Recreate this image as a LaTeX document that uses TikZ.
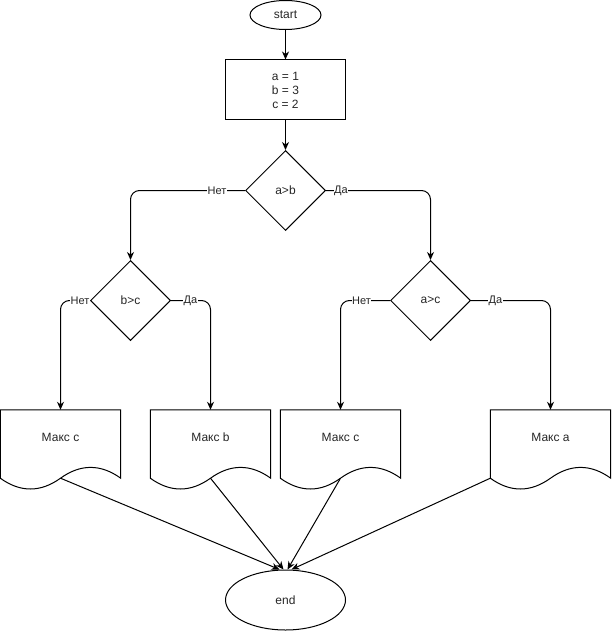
\documentclass[tikz,border=0pt]{standalone}
\usepackage{fontspec}
\setmainfont{Liberation Sans}
\usetikzlibrary{arrows.meta,shapes.geometric}
\tikzset{
  x=1pt, y=-1pt,
  every node/.style={font=\fontsize{12}{14}\selectfont, inner sep=0pt, text=black!85},
  box/.style={draw, line width=1pt, rectangle, minimum width=120pt, minimum height=60pt, align=center},
  oval/.style={draw, line width=1pt, ellipse},
  decision/.style={draw, line width=1pt, diamond, minimum width=80pt, minimum height=80pt, aspect=1},
  docnode/.style={minimum width=120pt, minimum height=68pt},
  docline/.style={draw, line width=1pt},
  flow/.style={line width=1pt, -{Stealth[length=8pt,width=7pt,inset=2.5pt]}},
  branch/.style={flow, rounded corners=9pt},
  lbl/.style={font=\fontsize{11}{13}\selectfont, fill=white, inner xsep=0.5pt, inner ysep=1pt}
}
\newcommand\docoutline[1]{%
  \draw[docline] (#1.south west) .. controls +(20,14.4) and +(-20,14.4) .. (#1.south)
    .. controls +(20,-14.4) and +(-20,-14.4) .. (#1.south east)
    -- (#1.north east) -- (#1.north west) -- cycle;}
\begin{document}
\begin{tikzpicture}
\useasboundingbox (0,0) rectangle (611,631);
% nodes
\node[oval, minimum width=71pt, minimum height=29pt] (s) at (285.5,15) {start};
\node[box] (init) at (285.5,90) {a = 1\\b = 3\\c = 2};
\node[decision] (q1) at (285.5,190.5) {a>b};
\node[decision] (q2) at (130.5,300.5) {b>c};
\node[decision] (q3) at (430.5,300.5) {a>c};
\node[docnode] (d1) at (60.5,444) {\raisebox{2.5pt}[0pt][0pt]{Макс c}};
\node[docnode] (d2) at (210.5,444) {\raisebox{2.5pt}[0pt][0pt]{Макс b}};
\node[docnode] (d3) at (340.5,444) {\raisebox{2.5pt}[0pt][0pt]{Макс c}};
\node[docnode] (d4) at (550.5,444) {\raisebox{2.5pt}[0pt][0pt]{Макс a}};
\docoutline{d1}
\docoutline{d2}
\docoutline{d3}
\docoutline{d4}
\node[oval, minimum width=120pt, minimum height=60pt] (e) at (285.5,600) {end};
% connectors
\draw[flow] (s) -- (init);
\draw[flow] (init) -- (q1);
\draw[branch] (q1.west) -| (q2.north);
\draw[branch] (q1.east) -| (q3.north);
\draw[branch] (q2.west) -| (d1.north);
\draw[branch] (q2.east) -| (d2.north);
\draw[branch] (q3.west) -| (d3.north);
\draw[branch] (q3.east) -| (d4.north);
\draw[flow] (d1.south) -- ([xshift=-6pt]e.north);
\draw[flow] (d2.south) -- ([xshift=-2pt]e.north);
\draw[flow] (d3.south) -- ([xshift=2pt]e.north);
\draw[flow] (d4.south west) -- ([xshift=6pt]e.north);
% edge labels
\node[lbl] (l1) at (217,191) {Нет};
\node[lbl] (l2) at (341,191) {Да};
\node[lbl] (l3) at (80,301) {Нет};
\node[lbl] (l4) at (190.5,301) {Да};
\node[lbl] (l5) at (361.5,301) {Нет};
\node[lbl] (l6) at (495.5,301) {Да};
\end{tikzpicture}
\end{document}
